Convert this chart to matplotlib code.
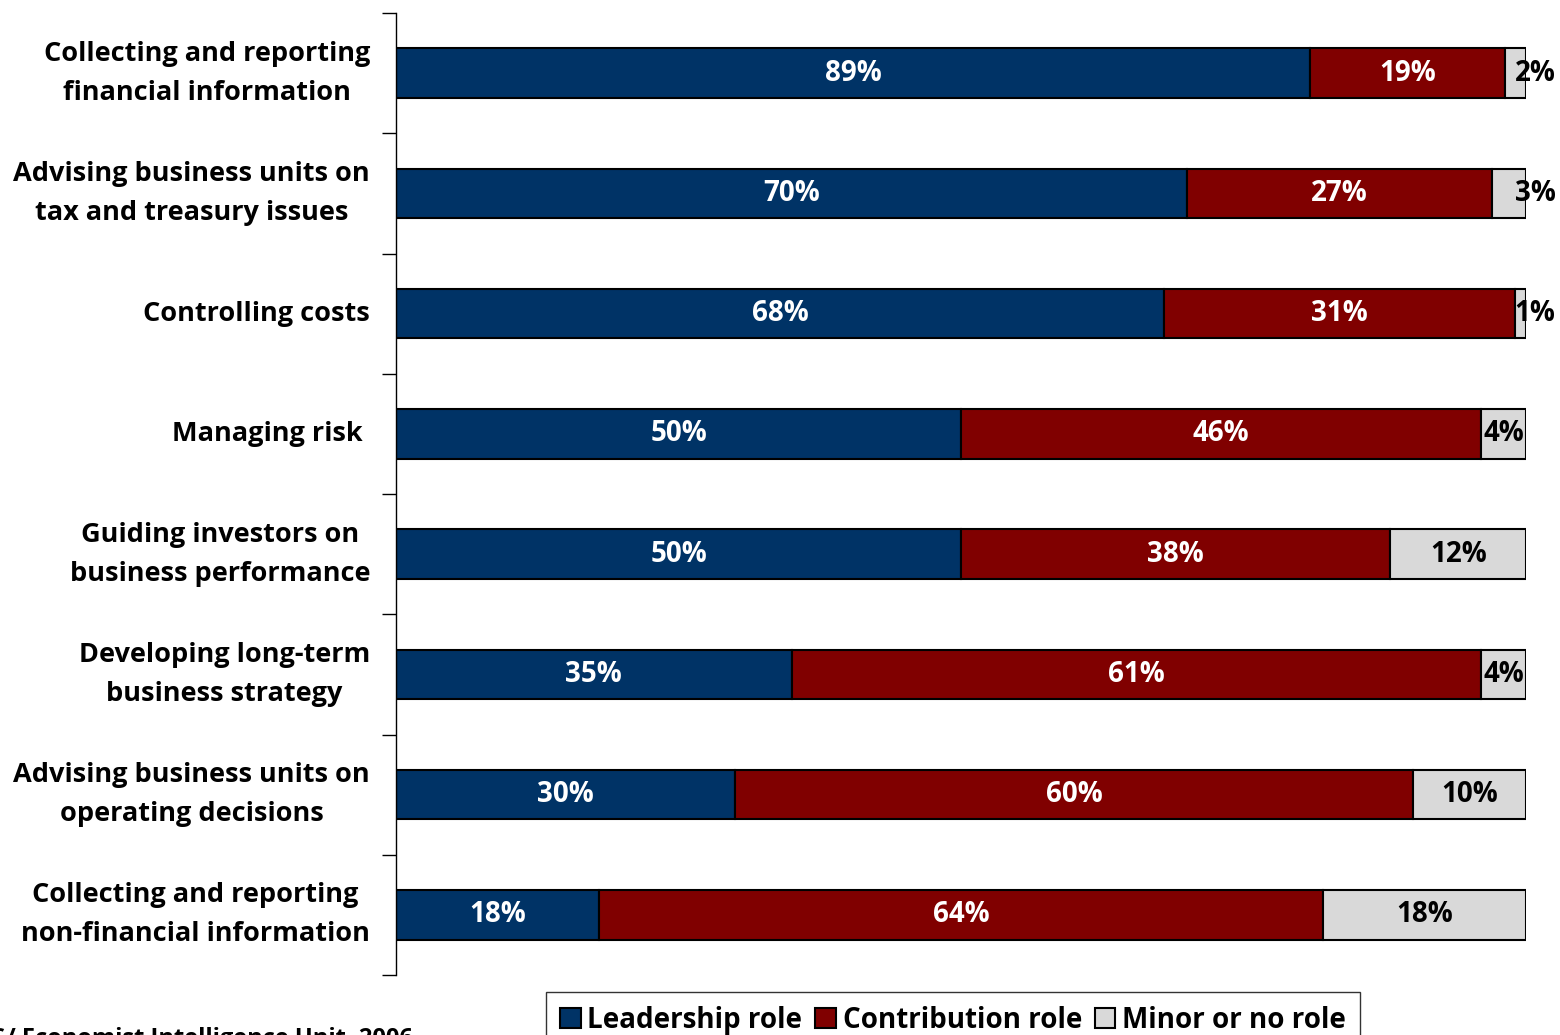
import matplotlib.pyplot as plt
import numpy as np

plt.rcParams['font.family'] = ['Open Sans', 'DejaVu Sans']
plt.rcParams['font.weight'] = 'bold'

categories = [
    "Collecting and reporting\nfinancial information",
    "Advising business units on\ntax and treasury issues",
    "Controlling costs",
    "Managing risk ",
    "Guiding investors on\nbusiness performance",
    "Developing long-term\nbusiness strategy",
    "Advising business units on\noperating decisions",
    "Collecting and reporting\nnon-financial information",
]
leadership = [89, 70, 68, 50, 50, 35, 30, 18]
contribution = [19, 27, 31, 46, 38, 61, 60, 64]
minor = [2, 3, 1, 4, 12, 4, 10, 18]
series_names = ["Leadership role", "Contribution role", "Minor or no role"]
colors = ["#003366", "#800000", "#D9D9D9"]
text_colors = ["white", "white", "black"]

data = np.array([leadership, contribution, minor], dtype=float)
share = data / data.sum(axis=0) * 100

fig = plt.figure(figsize=(15.6, 10.35), dpi=100)
ax = fig.add_axes([396 / 1560, 1 - 975 / 1035, 1130 / 1560, 962 / 1035])

y = np.arange(len(categories))
left = np.zeros(len(categories))
for i in range(3):
    bars = ax.barh(y, share[i], left=left, height=0.41, color=colors[i],
                   edgecolor='black', linewidth=1.5, label=series_names[i])
    for j, b in enumerate(bars):
        xc = left[j] + share[i][j] / 2
        if share[i][j] < 3.5:
            # tiny segments: Excel pushes the label past the bar end
            xc = left[j] + share[i][j] + 0.8
        ax.text(xc, y[j], f"{int(data[i][j])}%",
                ha='center', va='center', color=text_colors[i],
                fontsize=20, fontweight='bold')
    left += share[i]

ax.set_xlim(0, 100)
ax.set_ylim(len(categories) - 0.5, -0.5)
ax.set_xticks([])
ax.set_yticks(np.arange(-0.5, len(categories) + 0.5, 1))
ax.set_yticklabels([])
ax.tick_params(axis='y', direction='out', length=10, width=1, color='black')
for s in ['top', 'right', 'bottom']:
    ax.spines[s].set_visible(False)
ax.spines['left'].set_linewidth(1)

for j, c in enumerate(categories):
    ax.text(-0.023, y[j], c, ha='right', va='center', multialignment='center',
            fontsize=19.5, fontweight='bold', linespacing=1.65,
            transform=ax.get_yaxis_transform())

leg = fig.legend(loc='upper center', bbox_to_anchor=(953 / 1560, 1 - 992 / 1035),
                 ncol=3, frameon=True, fancybox=False, edgecolor='black',
                 fontsize=20, handlelength=0.75, handleheight=0.75,
                 handletextpad=0.25, columnspacing=0.45, borderpad=0.5,
                 borderaxespad=0)
leg.get_frame().set_linewidth(1)
for t in leg.get_texts():
    t.set_fontweight('bold')

fig.text(413 / 1560, -0.015, "Source: KPMG/ Economist Intelligence Unit, 2006",
         ha='right', va='bottom', fontsize=17, fontweight='bold')

fig.savefig('out.png', dpi=100)
